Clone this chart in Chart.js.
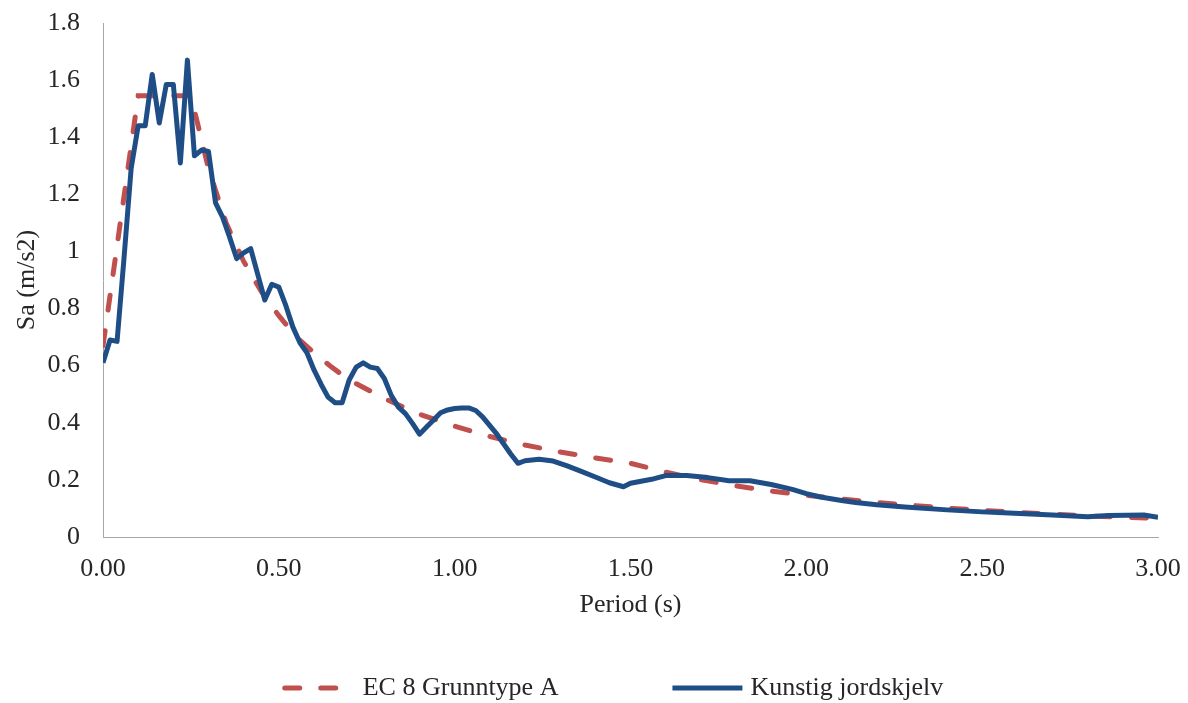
<!DOCTYPE html>
<html lang="no">
<head>
<meta charset="utf-8">
<title>Responsspekter</title>
<script src="https://cdn.jsdelivr.net/npm/chart.js@4.4.1/dist/chart.umd.min.js"></script>
<style>
  html, body { margin: 0; padding: 0; background: #fff; }
  #wrap { position: relative; width: 1188px; height: 703px; }
</style>
</head>
<body>
<div id="wrap"><canvas id="spectrum-chart"></canvas></div>
<script>
// Design spectrum, EC 8 ground type A
const ecPeriod = [0, 0.10, 0.25, 0.30, 0.35, 0.40, 0.45, 0.50, 0.55, 0.60, 0.65, 0.70, 0.80, 0.90,
  1.00, 1.10, 1.20, 1.30, 1.40, 1.50, 1.60, 1.70, 1.80, 1.90, 2.00, 2.20, 2.40, 2.60, 2.80, 3.00];
const ecSa = [0.67, 1.545, 1.545, 1.29, 1.10, 0.965, 0.86, 0.775, 0.70, 0.645, 0.595, 0.55, 0.485, 0.43,
  0.388, 0.352, 0.322, 0.298, 0.277, 0.258, 0.227, 0.201, 0.179, 0.161, 0.146, 0.121, 0.101, 0.086, 0.074, 0.065];

// Response spectrum of the artificial earthquake
const eqPeriod = [0, 0.02, 0.04, 0.06, 0.08, 0.10, 0.12, 0.14, 0.16, 0.18, 0.20, 0.22, 0.24, 0.26, 0.28,
  0.30, 0.32, 0.34, 0.36, 0.38, 0.40, 0.42, 0.44, 0.46, 0.48, 0.50, 0.52, 0.54, 0.56, 0.58,
  0.60, 0.62, 0.64, 0.66, 0.68, 0.70, 0.72, 0.74, 0.76, 0.78, 0.80, 0.82, 0.84, 0.86, 0.88,
  0.90, 0.92, 0.94, 0.96, 0.98, 1.00, 1.02, 1.04, 1.06, 1.08, 1.10, 1.12, 1.14, 1.16, 1.18,
  1.20, 1.24, 1.28, 1.32, 1.36, 1.40, 1.44, 1.48, 1.50, 1.56, 1.60, 1.66, 1.72, 1.78, 1.84,
  1.90, 1.96, 2.00, 2.04, 2.10, 2.14, 2.20, 2.28, 2.40, 2.50, 2.56, 2.70, 2.80, 2.86, 2.96, 3.00];
const eqSa = [0.61, 0.69, 0.685, 0.98, 1.29, 1.44, 1.44, 1.62, 1.45, 1.585, 1.585, 1.31, 1.67, 1.335, 1.355,
  1.35, 1.17, 1.12, 1.05, 0.975, 0.995, 1.01, 0.92, 0.83, 0.885, 0.875, 0.81, 0.735, 0.68, 0.645,
  0.585, 0.535, 0.49, 0.47, 0.47, 0.55, 0.595, 0.61, 0.595, 0.59, 0.555, 0.495, 0.455, 0.432, 0.398,
  0.36, 0.385, 0.41, 0.435, 0.445, 0.45, 0.452, 0.452, 0.443, 0.42, 0.39, 0.36, 0.325, 0.29, 0.258,
  0.267, 0.272, 0.266, 0.249, 0.23, 0.21, 0.19, 0.176, 0.188, 0.202, 0.215, 0.215, 0.208, 0.197, 0.197,
  0.184, 0.167, 0.152, 0.14, 0.128, 0.121, 0.113, 0.105, 0.095, 0.088, 0.085, 0.077, 0.071, 0.075, 0.077, 0.069];

// Axis ticks
const periodTicks = [0, 0.5, 1.0, 1.5, 2.0, 2.5, 3.0];
const saTicks = [0, 0.2, 0.4, 0.6, 0.8, 1, 1.2, 1.4, 1.6, 1.8];

const seriesNames = ['EC 8 Grunntype A', 'Kunstig jordskjelv'];

const serif = "'Liberation Serif', 'Times New Roman', serif";
const textColor = '#262626';
const axisColor = '#a6a6a6';

function toPoints(xs, ys) {
  return xs.map((x, i) => ({ x: x, y: ys[i] }));
}

// Legend: one row under the axis title, line sample + label
const bottomLegend = {
  id: 'bottomLegend',
  afterDraw(chart) {
    const ctx = chart.ctx;
    const sets = chart.data.datasets;
    const lineLen = 74;
    const textGap = 6;
    const itemGap = 112;
    ctx.save();
    ctx.font = '26px ' + serif;
    ctx.textBaseline = 'middle';
    const widths = sets.map(ds => ctx.measureText(ds.label).width);
    const total = widths.reduce((s, w) => s + lineLen + textGap + w, 0) + itemGap * (sets.length - 1);
    let x = chart.width / 2 + 19 - total / 2;
    const y = chart.height - 15;
    sets.forEach((ds, i) => {
      ctx.strokeStyle = ds.borderColor;
      ctx.lineWidth = ds.borderWidth;
      ctx.lineCap = ds.borderCapStyle;
      ctx.setLineDash(ds.borderDash || []);
      ctx.beginPath();
      ctx.moveTo(x + 2, y);
      ctx.lineTo(x + lineLen - 2, y);
      ctx.stroke();
      ctx.setLineDash([]);
      ctx.fillStyle = textColor;
      ctx.fillText(ds.label, x + lineLen + textGap, y);
      x += lineLen + textGap + widths[i] + itemGap;
    });
    ctx.restore();
  }
};

new Chart(document.getElementById('spectrum-chart'), {
  type: 'line',
  data: {
    datasets: [{
      label: seriesNames[0],
      data: toPoints(ecPeriod, ecSa),
      borderColor: '#c0504d',
      borderWidth: 5,
      borderDash: [15, 21],
      borderCapStyle: 'round',
      pointRadius: 0,
      tension: 0,
      order: 2
    }, {
      label: seriesNames[1],
      data: toPoints(eqPeriod, eqSa),
      borderColor: '#1f4e87',
      borderWidth: 5,
      borderCapStyle: 'butt',
      borderJoinStyle: 'round',
      pointRadius: 0,
      tension: 0,
      order: 1
    }]
  },
  options: {
    responsive: true,
    maintainAspectRatio: false,
    animation: false,
    layout: { padding: { left: 8, right: 30, top: 23, bottom: 78 } },
    plugins: {
      legend: { display: false },
      tooltip: { enabled: false }
    },
    scales: {
      x: {
        type: 'linear',
        min: 0,
        max: 3,
        afterBuildTicks: axis => { axis.ticks = periodTicks.map(v => ({ value: v })); },
        // fixed axis band, labels may overhang the plot edges
        afterFit: axis => {
          axis.height = 88;
          axis.paddingLeft = 0;
          axis.paddingRight = 0;
        },
        grid: { drawOnChartArea: false, drawTicks: false },
        border: { color: axisColor, width: 1 },
        ticks: {
          padding: 17,
          maxRotation: 0,
          color: textColor,
          font: { family: serif, size: 26 },
          callback: v => Number(v).toFixed(2)
        },
        title: {
          display: true,
          text: 'Period (s)',
          color: textColor,
          font: { family: serif, size: 26 },
          padding: { top: 4, bottom: 4 }
        }
      },
      y: {
        min: 0,
        max: 1.8,
        afterBuildTicks: axis => { axis.ticks = saTicks.map(v => ({ value: v })); },
        afterFit: axis => {
          axis.width = 95;
          axis.paddingTop = 0;
          axis.paddingBottom = 0;
        },
        grid: { drawOnChartArea: false, drawTicks: false },
        border: { color: axisColor, width: 1 },
        ticks: {
          padding: 23,
          color: textColor,
          font: { family: serif, size: 26 },
          callback: v => String(v)
        },
        title: {
          display: true,
          text: 'Sa (m/s2)',
          color: textColor,
          font: { family: serif, size: 26 },
          padding: { top: 4, bottom: 4 }
        }
      }
    }
  },
  plugins: [bottomLegend]
});
</script>
</body>
</html>
